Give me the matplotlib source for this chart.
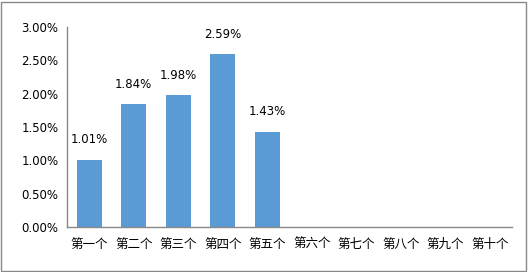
import matplotlib.pyplot as plt
from matplotlib.patches import Rectangle
from matplotlib.ticker import FuncFormatter

plt.rcParams['font.family'] = ['Noto Sans CJK SC', 'DejaVu Sans']

categories = ['第一个', '第二个', '第三个', '第四个', '第五个',
              '第六个', '第七个', '第八个', '第九个', '第十个']
values = [1.01, 1.84, 1.98, 2.59, 1.43]
yticks = [0, 0.5, 1.0, 1.5, 2.0, 2.5, 3.0]

fig = plt.figure(figsize=(5.28, 2.72), dpi=100)
ax = fig.add_axes([67 / 528, 1 - 227 / 272, 445 / 528, 200 / 272])

x = list(range(len(values)))
bars = ax.bar(x, values, width=0.56, color='#5B9BD5')
for xi, v in zip(x, values):
    ax.text(xi, v + 0.2, f'{v:.2f}%', ha='center', va='bottom',
            fontsize=8.5, color='#000000', family='DejaVu Sans')

ax.set_xlim(-0.5, len(categories) - 0.5)
ax.set_ylim(0, 3.0)
ax.set_xticks(range(len(categories)))
ax.set_xticklabels(categories, fontsize=9)
ax.set_yticks(yticks)
ax.yaxis.set_major_formatter(FuncFormatter(lambda v, p: f'{v:.2f}%'))
for lab in ax.get_yticklabels():
    lab.set_family('DejaVu Sans')
    lab.set_fontsize(8.5)
ax.tick_params(axis='both', length=0)
ax.tick_params(axis='x', pad=8)
ax.tick_params(axis='y', pad=6)

for s in ['top', 'right']:
    ax.spines[s].set_visible(False)
for s in ['left', 'bottom']:
    ax.spines[s].set_color('#898989')
    ax.spines[s].set_linewidth(1)

fig.patches.append(Rectangle((0.002, 0.004), 0.994, 0.99, transform=fig.transFigure,
                             fill=False, edgecolor='#898989', linewidth=1))

fig.savefig('out.png', dpi=100)
